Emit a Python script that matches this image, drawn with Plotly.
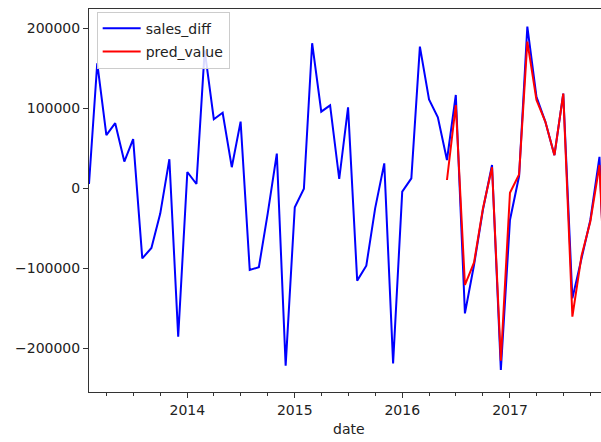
import plotly.graph_objects as go
import pandas as pd

dates = pd.date_range("2013-02-01", "2017-12-01", freq="MS")

sales_diff = [
    5000, 156000, 66000, 81000, 33000, 61000, -88000, -75000, -32000, 36000, -186000,
    20000, 5000, 172000, 86000, 94000, 26000, 83000, -102500, -99000, -32000, 43000, -222000,
    -24000, -1000, 181000, 95400, 103300, 11250, 100800, -115800, -97100, -25400, 30800, -219200,
    -4600, 12100, 176700, 110800, 88300, 35000, 116250, -156700, -96000, -27500, 28750, -227500,
    -40000, 15000, 201700, 114000, 83000, 41000, 118000, -138000, -88000, -40000, 39000, -233000,
]

pred_dates = dates[40:]
pred_value = [
    10000, 103750, -121250, -93000, -26000, 26000, -216000,
    -6000, 17000, 183000, 110000, 83000, 41000, 118000, -160800, -85000, -42000, 28750, -220000,
]

y_ticks = [-200000, -100000, 0, 100000, 200000]
y_ticktext = ["\u2212200000", "\u2212100000", "0", "100000", "200000"]

FONT = "DejaVu Sans"
AXC = "#333333"

fig = go.Figure()
fig.add_trace(go.Scatter(x=dates, y=sales_diff, mode="lines", name="sales_diff",
                         line=dict(color="#0000ff", width=2), legendgroup="a"))
fig.add_trace(go.Scatter(x=pred_dates, y=pred_value, mode="lines", name="pred_value",
                         line=dict(color="#ff0000", width=2), legendgroup="b"))

fig.update_layout(
    width=601, height=442,
    margin=dict(l=89, r=0, t=9, b=50),
    paper_bgcolor="white", plot_bgcolor="white",
    font=dict(family=FONT, size=14, color="#222222"),
    showlegend=True,
    legend=dict(x=0.015, y=0.993, xanchor="left", yanchor="top",
                bgcolor="rgba(255,255,255,0.85)", bordercolor="#cccccc", borderwidth=1,
                font=dict(family=FONT, size=14, color="#222222"),
                itemwidth=38, traceorder="grouped", tracegroupgap=2),
    xaxis=dict(
        range=["2013-02-01", "2017-11-06 05:00"],
        showline=True, mirror=True, linecolor=AXC, linewidth=1,
        showgrid=False, zeroline=False,
        ticks="outside", ticklen=5, tickwidth=1, tickcolor=AXC,
        dtick="M12", tick0="2014-01-01", tickformat="%Y",
        minor=dict(dtick="M3", tick0="2014-01-01", ticks="outside", ticklen=3,
                   tickwidth=1, tickcolor=AXC, showgrid=False),
    ),
    yaxis=dict(
        range=[-255000, 223750],
        showline=True, mirror=False, linecolor=AXC, linewidth=1,
        showgrid=False, zeroline=False,
        ticks="outside", ticklen=5, tickwidth=1, tickcolor=AXC,
        tickvals=y_ticks, ticktext=y_ticktext,
    ),
    annotations=[dict(text="date", xref="paper", yref="paper", x=0.5078, y=-0.0966,
                      xanchor="center", yanchor="middle", showarrow=False,
                      font=dict(family=FONT, size=14, color="#222222"))],
)

fig.write_html("out.html")
